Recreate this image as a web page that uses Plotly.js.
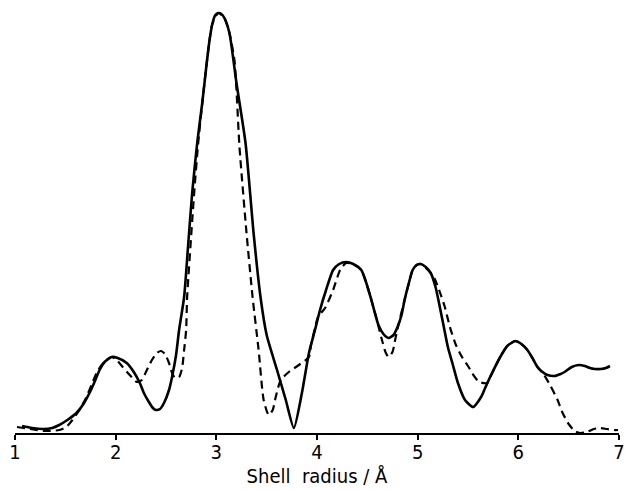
<!DOCTYPE html>
<html>
<head>
<meta charset="utf-8">
<script src="https://cdn.plot.ly/plotly-3.0.1.min.js"></script>
<style>html,body{margin:0;padding:0;background:#fff;}#chart{width:626px;height:490px;}</style>
</head>
<body>
<div id="chart"></div>
<script>
// Shell radius (Å) and amplitude (arbitrary units)
var solidX = [1.07,1.17,1.28,1.37,1.44,1.52,1.61,1.68,1.74,1.79,1.84,1.89,1.96,2.02,2.11,2.18,2.24,2.28,2.33,2.37,2.40,2.44,2.48,2.53,2.56,2.60,2.63,2.68,2.72,2.76,2.81,2.86,2.90,2.93,2.96,2.99,3.02,3.05,3.08,3.13,3.20,3.29,3.37,3.44,3.50,3.60,3.69,3.77,3.85,3.92,3.98,4.03,4.09,4.16,4.22,4.29,4.36,4.44,4.49,4.54,4.61,4.66,4.71,4.76,4.80,4.84,4.87,4.91,4.95,4.99,5.03,5.08,5.13,5.18,5.22,5.26,5.30,5.35,5.40,5.47,5.55,5.63,5.67,5.72,5.82,5.89,5.97,6.03,6.09,6.14,6.19,6.24,6.29,6.36,6.42,6.46,6.53,6.60,6.66,6.71,6.76,6.82,6.87,6.91];
var solidY = [7,5,4,5,8,13,20,29,40,51,63,71,76,75,70,61,50,40,31,25,23,24,30,43,56,78,103,136,188,240,290,330,366,391,409,418,420,419,415,400,350,290,200,135,98,64,33,5,40,80,103,123,143,163,169,171,169,163,150,133,108,99,95,98,106,118,133,149,163,168,169,166,160,145,126,106,86,68,50,33,26,36,45,56,76,87,92,89,83,75,66,61,58,57,59,61,66,68,67,65,64,64,65,67];

var dashX = [1.02,1.15,1.30,1.44,1.51,1.57,1.64,1.71,1.76,1.81,1.86,1.91,1.96,2.01,2.07,2.14,2.21,2.26,2.31,2.36,2.41,2.45,2.49,2.53,2.56,2.59,2.63,2.66,2.68,2.70,2.71,2.78,2.82,2.90,2.96,3.02,3.08,3.13,3.18,3.20,3.23,3.30,3.36,3.42,3.47,3.52,3.56,3.59,3.64,3.72,3.82,3.92,3.94,3.98,4.01,4.08,4.16,4.23,4.29,4.36,4.44,4.49,4.54,4.59,4.64,4.68,4.71,4.75,4.78,4.82,4.87,4.91,4.95,4.99,5.03,5.08,5.12,5.17,5.22,5.27,5.32,5.38,5.44,5.50,5.56,5.61,5.69,5.72,5.82,5.89,5.97,6.03,6.09,6.14,6.19,6.25,6.32,6.39,6.44,6.50,6.56,6.61,6.68,6.75,6.81,6.88,6.95,6.99];
var dashY = [6,4,2,3,6,13,23,36,48,60,68,73,76,73,66,58,51,53,63,73,80,82,79,70,60,55,56,65,83,103,136,240,290,366,409,420,415,400,373,343,286,200,136,83,33,18,23,36,53,61,68,76,88,105,116,125,143,163,170,169,163,150,133,115,95,81,76,81,95,113,133,149,163,168,169,165,161,154,141,126,106,88,76,67,57,51,50,56,76,87,92,89,83,75,66,59,47,33,20,9,2,0,1,4,5,4,3,3];

var tickVals = [1,2,3,4,5,6,7];
var tickText = ['1','2','3','4','5','6','7'];
var xTitle = 'Shell\u00a0 radius / Å';

var traces = [
  {x: solidX, y: solidY, type: 'scatter', mode: 'lines',
   line: {color: '#000', width: 2.6, shape: 'spline', smoothing: 0.6}, hoverinfo: 'skip'},
  {x: dashX, y: dashY, type: 'scatter', mode: 'lines',
   line: {color: '#000', width: 2.2, dash: '8px,5px', shape: 'spline', smoothing: 0.6}, hoverinfo: 'skip'}
];

var fontFam = '"DejaVu Sans Condensed", "DejaVu Sans", sans-serif';
var layout = {
  width: 626, height: 490,
  margin: {l: 15, r: 7, t: 8, b: 57},
  paper_bgcolor: '#fff', plot_bgcolor: '#fff',
  showlegend: false,
  xaxis: {
    range: [1, 7], tickvals: tickVals, ticktext: tickText,
    showgrid: false, zeroline: false, showline: true, linecolor: '#000', linewidth: 2,
    ticks: 'outside', ticklen: 5, tickwidth: 2, tickcolor: '#000',
    ticklabeloverflow: 'allow', ticklabelstandoff: -5,
    tickfont: {family: fontFam, size: 20, color: '#000'},
    title: {text: xTitle, font: {family: fontFam, size: 20, color: '#000'}, standoff: 6},
    fixedrange: true
  },
  xaxis2: {
    range: [1, 7], tickvals: tickVals, overlaying: 'x', anchor: 'y', side: 'bottom',
    showgrid: false, zeroline: false, showline: false, showticklabels: false,
    ticks: 'inside', ticklen: 5, tickwidth: 2, tickcolor: '#000', fixedrange: true
  },
  yaxis: {
    range: [0, 425], visible: false, showgrid: false, zeroline: false, fixedrange: true
  }
};

Plotly.newPlot('chart', traces, layout, {staticPlot: true, displayModeBar: false});
</script>
</body>
</html>
